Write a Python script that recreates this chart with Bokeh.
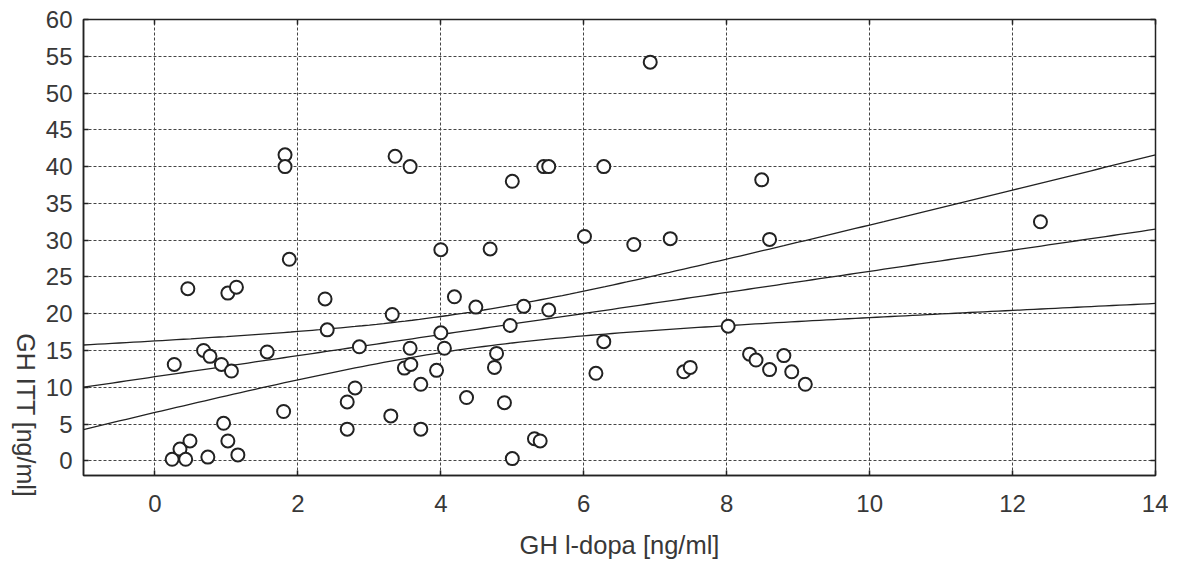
import numpy as np
from bokeh.plotting import figure
from bokeh.layouts import row
from bokeh.models import Range1d, FixedTicker, LinearAxis, ColumnDataSource, Div
from bokeh.embed import file_html
from bokeh.resources import INLINE

# ---- data ----
gh_ldopa = [0.24, 0.35, 0.43, 0.49, 0.74, 0.96, 1.02, 1.16, 0.27, 0.46,
            1.02, 1.14, 0.68, 0.77, 0.93, 1.07, 1.57, 1.82, 1.82, 1.88,
            1.80, 2.38, 2.41, 2.86, 2.80, 2.69, 2.69, 3.36, 3.57, 3.32,
            3.57, 3.49, 3.58, 3.72, 3.30, 3.72, 4.00, 4.19, 4.49, 4.00,
            4.05, 3.94, 4.36, 6.93, 5.00, 5.44, 5.51, 6.28, 8.49, 4.69,
            6.01, 6.70, 7.21, 8.60, 5.16, 5.51, 4.97, 8.02, 4.78, 6.28,
            4.75, 6.17, 7.40, 7.49, 8.32, 8.41, 8.80, 8.60, 8.91, 9.10,
            4.89, 5.31, 5.39, 5.00, 12.39]
gh_itt = [0.2, 1.6, 0.2, 2.7, 0.5, 5.1, 2.7, 0.8, 13.1, 23.4,
          22.8, 23.6, 15.0, 14.2, 13.1, 12.2, 14.8, 41.6, 40.0, 27.4,
          6.7, 22.0, 17.8, 15.5, 9.9, 8.0, 4.3, 41.4, 40.0, 19.9,
          15.3, 12.6, 13.1, 10.4, 6.1, 4.3, 28.7, 22.3, 20.9, 17.4,
          15.3, 12.3, 8.6, 54.2, 38.0, 40.0, 40.0, 40.0, 38.2, 28.8,
          30.5, 29.4, 30.2, 30.1, 21.0, 20.5, 18.4, 18.3, 14.6, 16.2,
          12.7, 11.9, 12.1, 12.7, 14.5, 13.7, 14.3, 12.4, 12.1, 10.4,
          7.9, 3.0, 2.7, 0.3, 32.5]

x_ticks = [0, 2, 4, 6, 8, 10, 12, 14]
y_ticks = [0, 5, 10, 15, 20, 25, 30, 35, 40, 45, 50, 55, 60]

# regression line and confidence band
fit_intercept = 11.43
fit_slope = 1.433
band_a = 6.0
band_b = 1.0
band_center = 4.2

x_label = "GH l-dopa [ng/ml]"
y_label = "GH ITT [ng/ml]"

FONT = "Liberation Sans"
TXT = "#383838"
INK = "#222222"
H = 564
LW = 40                                # strip holding the y-axis title
FL, FT, FR, FB = 83, 19, 1155, 475     # frame edges in page pixels
W = 1168 - LW

p = figure(width=W, height=H, x_range=Range1d(-1, 14), y_range=Range1d(-2, 60),
           output_backend="svg", toolbar_location=None,
           min_border_left=FL - LW, min_border_right=1168 - FR, min_border_top=FT,
           min_border_bottom=H - FB)
p.background_fill_color = "white"
p.border_fill_color = "white"
p.outline_line_color = INK
p.outline_line_width = 1.5

for ax, ticks in ((p.xaxis[0], x_ticks), (p.yaxis[0], y_ticks)):
    ax.ticker = FixedTicker(ticks=ticks)
    ax.minor_tick_line_color = None
    ax.major_tick_in = 5
    ax.major_tick_out = 0
    ax.major_tick_line_width = 1.5
    ax.major_tick_line_color = INK
    ax.axis_line_color = INK
    ax.axis_line_width = 1.5
    ax.major_label_text_font = FONT
    ax.major_label_text_font_size = "24px"
    ax.major_label_text_color = TXT

p.xaxis.major_label_standoff = 19
p.yaxis.major_label_standoff = 11
p.xaxis.axis_label = x_label
p.xaxis.axis_label_text_font = FONT
p.xaxis.axis_label_text_font_size = "25.5px"
p.xaxis.axis_label_text_font_style = "normal"
p.xaxis.axis_label_text_color = TXT
p.xaxis.axis_label_standoff = 16

# inward ticks on top and right edges (labels not painted)
for loc, ticks in (("above", x_ticks), ("right", y_ticks)):
    ax = LinearAxis(ticker=FixedTicker(ticks=ticks))
    ax.minor_tick_line_color = None
    ax.major_tick_in = 5
    ax.major_tick_out = 0
    ax.major_tick_line_width = 1.5
    ax.major_tick_line_color = INK
    ax.axis_line_color = None
    ax.major_label_text_color = None
    ax.major_label_text_font_size = "2px"
    ax.major_label_standoff = 0
    p.add_layout(ax, loc)

p.xgrid.ticker = FixedTicker(ticks=x_ticks)
p.ygrid.ticker = FixedTicker(ticks=y_ticks)
for g in (p.xgrid[0], p.ygrid[0]):
    g.grid_line_color = "#444444"
    g.grid_line_width = 1
    g.grid_line_dash = "3 2"

# regression line with confidence band
fx = np.linspace(-1, 14, 151)
fy = fit_intercept + fit_slope * fx
half = np.sqrt(band_a + band_b * (fx - band_center) ** 2)
for yy in (fy + half, fy, fy - half):
    p.line(fx, yy, line_color=INK, line_width=1.3)

src = ColumnDataSource(dict(x=gh_ldopa, y=gh_itt))
p.scatter("x", "y", source=src, marker="circle", size=13, line_width=2,
          line_color=INK, fill_color="white")

# y-axis title, rotated clockwise (reads top to bottom), in a strip on the left
ydiv = Div(
    text=(f'<div style="position:relative;width:{LW}px;height:{H}px;">'
          f'<span style="position:absolute;left:25px;top:415px;'
          f'transform:translate(-50%,-50%) rotate(90deg);white-space:nowrap;'
          f"font-family:'{FONT}';font-size:25px;line-height:1;color:{TXT};\">"
          f'{y_label}</span></div>'),
    width=LW, height=H, margin=0)

layout = row(ydiv, p, spacing=0)
open("out.html", "w").write(file_html(layout, INLINE))
